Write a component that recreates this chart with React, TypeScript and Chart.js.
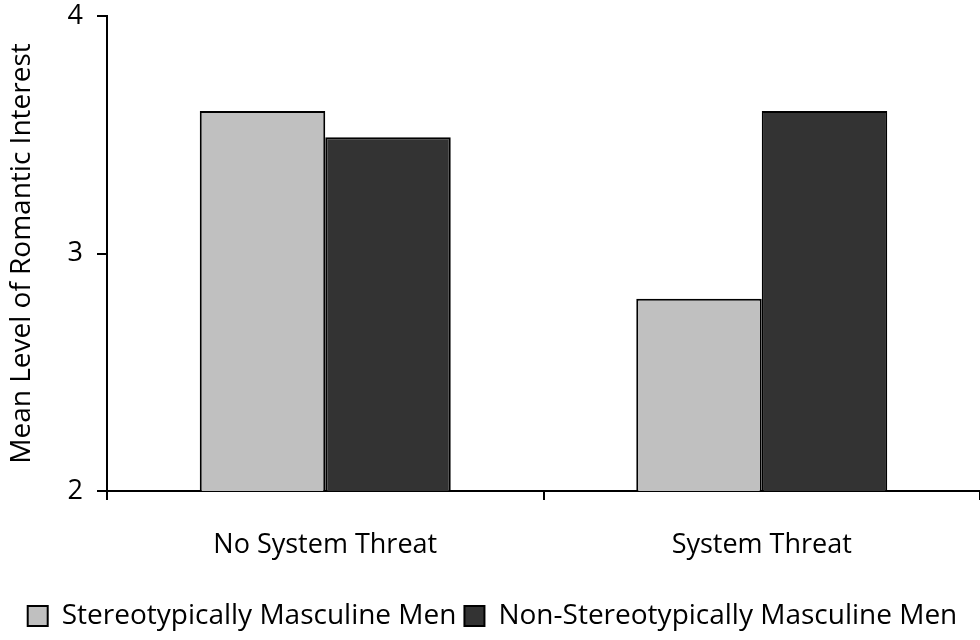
import React, { useEffect, useRef } from "react";
import { Chart, registerables } from "chart.js";

Chart.register(...registerables);

const categories = ["No System Threat", "System Threat"];
const stereotypicalValues = [3.6, 2.81];
const nonStereotypicalValues = [3.49, 3.6];
const seriesNames = ["Stereotypically Masculine Men", "Non-Stereotypically Masculine Men"];
const yTicks = [2, 3, 4];
const yTitle = "Mean Level of Romantic Interest";

const FONT = "'Open Sans', sans-serif";

export default function App() {
  const ref = useRef<HTMLCanvasElement | null>(null);

  useEffect(() => {
    if (!ref.current) return;
    const chart = new Chart(ref.current, {
      type: "bar",
      data: {
        labels: categories,
        datasets: [
          {
            label: seriesNames[0],
            data: stereotypicalValues,
            backgroundColor: "#c0c0c0",
            borderColor: "#000000",
            borderWidth: 2,
            borderSkipped: false,
          },
          {
            label: seriesNames[1],
            data: nonStereotypicalValues,
            backgroundColor: "#333333",
            borderColor: "#000000",
            borderWidth: 2,
            borderSkipped: false,
          },
        ],
      },
      options: {
        animation: false,
        responsive: true,
        maintainAspectRatio: false,
        layout: { padding: { top: 0, left: 5, right: 0, bottom: 0 } },
        datasets: { bar: { categoryPercentage: 0.575, barPercentage: 1 } },
        plugins: {
          tooltip: { enabled: false },
          legend: {
            position: "bottom",
            labels: {
              color: "#000",
              font: { family: FONT, size: 28 },
              boxWidth: 20,
              boxHeight: 20,
              padding: 8,
              generateLabels: (c: any) =>
                c.data.datasets.map((ds: any, i: number) => ({
                  text: ds.label,
                  fillStyle: ds.backgroundColor,
                  strokeStyle: "#000",
                  lineWidth: 2,
                  datasetIndex: i,
                  hidden: false,
                  fontColor: "#000",
                })),
            },
          },
        },
        scales: {
          x: {
            grid: {
              offset: true,
              drawOnChartArea: false,
              drawTicks: true,
              tickLength: 9,
              color: "#000",
              lineWidth: 2,
            },
            border: { color: "#000", width: 2 },
            ticks: {
              color: "#000",
              font: { family: FONT, size: 27 },
              padding: 29,
            },
            afterFit: (s: any) => {
              s.height = 103;
            },
          },
          y: {
            min: 2,
            max: 4,
            afterBuildTicks: (s: any) => {
              s.ticks = yTicks.map((v) => ({ value: v }));
            },
            grid: {
              drawOnChartArea: false,
              drawTicks: true,
              tickLength: 10,
              color: "#000",
              lineWidth: 2,
            },
            border: { color: "#000", width: 2 },
            ticks: {
              color: "#000",
              font: { family: FONT, size: 27 },
              padding: 14,
            },
            title: {
              display: true,
              text: yTitle,
              color: "#000",
              font: { family: FONT, size: 28 },
              padding: { top: 0, bottom: 0 },
            },
            afterFit: (s: any) => {
              s.width = 102;
              s.paddingTop = 16;
              s.paddingBottom = 10;
            },
          },
        },
      },
    });
    return () => chart.destroy();
  }, []);

  return (
    <div style={{ position: "absolute", left: 0, top: 0, width: 980, height: 640, background: "#fff" }}>
      <canvas ref={ref} />
    </div>
  );
}
